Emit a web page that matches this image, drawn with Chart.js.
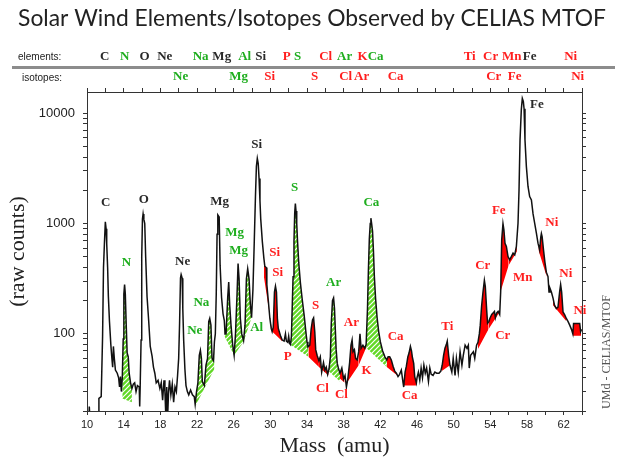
<!DOCTYPE html>
<html>
<head>
<meta charset="utf-8">
<script src="https://cdn.jsdelivr.net/npm/chart.js@4.4.1/dist/chart.umd.min.js"></script>
<style>
	html, body { margin: 0; padding: 0; background: #fff; }
	#wrap { width: 620px; height: 458px; }
</style>
</head>
<body>
<div id="wrap"><canvas id="mtof"></canvas></div>
<script>
// Spectrum: mass (amu) and raw counts
const massAmu = [
	10.0, 10.2, 10.25, 10.35, 11.25, 11.3, 11.55, 11.7, 11.8, 11.9,
	12.0, 12.08, 12.15, 12.25, 12.33, 12.45, 12.6, 12.7, 12.8, 12.88,
	12.98, 13.1, 13.3, 13.45, 13.55, 13.65, 13.75, 13.85, 13.95, 14.02,
	14.1, 14.18, 14.28, 14.38, 14.5, 14.6, 14.75, 14.9, 15.05, 15.2,
	15.35, 15.5, 15.7, 15.75, 15.8, 15.9, 15.97, 16.05, 16.12, 16.2,
	16.3, 16.4, 16.55, 16.72, 16.9, 17.1, 17.25, 17.4, 17.55, 17.75,
	17.95, 18.1, 18.25, 18.4, 18.5, 18.6, 18.7, 18.8, 18.9, 19.0,
	19.15, 19.3, 19.45, 19.6, 19.75, 19.88, 20.0, 20.1, 20.2, 20.27,
	20.38, 20.45, 20.55, 20.68, 20.8, 20.95, 21.1, 21.3, 21.5, 21.7,
	21.8, 21.95, 22.1, 22.25, 22.37, 22.48, 22.58, 22.8, 22.98, 23.15,
	23.28, 23.39, 23.52, 23.64, 23.8, 23.9, 24.0, 24.1, 24.19, 24.27,
	24.42, 24.52, 24.68, 24.84, 24.98, 25.06, 25.17, 25.35, 25.46, 25.57,
	25.71, 25.89, 26.05, 26.2, 26.37, 26.48, 26.59, 26.73, 26.88, 27.08,
	27.24, 27.39, 27.53, 27.68, 27.82, 27.95, 28.1, 28.25, 28.38, 28.48,
	28.58, 28.68, 28.77, 28.87, 28.95, 29.13, 29.3, 29.4, 29.55, 29.62,
	29.78, 29.95, 30.1, 30.2, 30.32, 30.45, 30.56, 30.67, 30.77, 30.87,
	30.97, 31.13, 31.3, 31.5, 31.65, 31.75, 31.9, 32.0, 32.1, 32.2,
	32.3, 32.4, 32.48, 32.58, 32.66, 32.73, 32.8, 32.88, 32.96, 33.1,
	33.28, 33.48, 33.7, 33.9, 34.0, 34.1, 34.3, 34.45, 34.6, 34.72,
	34.85, 34.95, 35.1, 35.3, 35.45, 35.6, 35.8, 35.95, 36.1, 36.25,
	36.4, 36.55, 36.65, 36.78, 36.9, 37.0, 37.08, 37.18, 37.3, 37.45,
	37.6, 37.8, 38.0, 38.15, 38.3, 38.45, 38.65, 38.8, 38.92, 39.02,
	39.17, 39.3, 39.47, 39.64, 39.78, 39.9, 40.1, 40.3, 40.45, 40.6,
	40.7, 40.8, 40.9, 40.97, 41.05, 41.15, 41.25, 41.35, 41.48, 41.65,
	41.82, 42.0, 42.25, 42.5, 42.7, 42.85, 43.02, 43.2, 43.39, 43.57,
	43.75, 43.93, 44.1, 44.29, 44.48, 44.55, 44.7, 44.84, 45.0, 45.13,
	45.28, 45.4, 45.49, 45.64, 45.75, 45.93, 46.0, 46.15, 46.3, 46.45,
	46.6, 46.75, 46.9, 47.05, 47.25, 47.4, 47.55, 47.75, 47.95, 48.15,
	48.4, 48.6, 48.75, 48.9, 49.05, 49.2, 49.3, 49.45, 49.6, 49.8,
	49.95, 50.15, 50.3, 50.5, 50.7, 50.9, 51.05, 51.25, 51.45, 51.6,
	51.7, 51.85, 52.15, 52.3, 52.5, 52.65, 52.8, 52.9, 53.05, 53.2,
	53.35, 53.45, 53.6, 53.7, 53.85, 53.95, 54.15, 54.3, 54.45, 54.55,
	54.7, 54.85, 55.02, 55.13, 55.24, 55.38, 55.48, 55.6, 55.75, 55.93,
	56.11, 56.29, 56.48, 56.66, 56.84, 57.02, 57.13, 57.24, 57.38, 57.49,
	57.6, 57.68, 57.78, 57.93, 58.11, 58.29, 58.48, 58.66, 58.84, 59.02,
	59.2, 59.38, 59.5, 59.57, 59.65, 59.8, 59.95, 60.11, 60.29, 60.4,
	60.5, 60.66, 60.84, 61.0, 61.2, 61.38, 61.56, 61.67, 61.78, 61.93,
	62.1, 62.29, 62.47, 62.66, 62.85, 63.0, 63.08, 63.75, 63.85, 63.95,
];
const rawCounts = [
	15, 15, 22, 15, 15, 26, 27, 95, 400, 660,
	1040, 900, 660, 400, 220, 130, 80, 62, 50, 77,
	60, 47, 44, 40, 33, 41, 30, 40, 90, 230,
	280, 230, 120, 67, 62, 44, 36, 32, 35, 36,
	30, 34, 33, 22, 33, 88, 500, 1100, 1225, 1100,
	1000, 500, 218, 135, 77, 63, 50, 44, 36, 38,
	32, 36, 25, 38, 30, 18, 33, 18, 30, 38,
	28, 35, 24, 33, 30, 42, 60, 125, 320, 345,
	320, 170, 86, 48, 34, 30, 28, 31, 28, 27,
	23, 30, 36, 64, 71, 60, 37, 34, 52, 60,
	129, 138, 120, 60, 57, 85, 100, 230, 800, 1200,
	1150, 420, 214, 152, 132, 100, 100, 214, 295, 182,
	120, 80, 64, 100, 230, 434, 316, 138, 100, 87,
	120, 316, 390, 316, 185, 140, 250, 700, 1800, 3300,
	3900, 3500, 2560, 1600, 1110, 683, 482, 410, 400, 280,
	200, 138, 112, 105, 115, 240, 271, 240, 138, 112,
	105, 95, 88, 86, 100, 86, 84, 95, 82, 80,
	95, 190, 330, 700, 1250, 1520, 1300, 1000, 710, 440,
	290, 205, 145, 100, 85, 76, 79, 110, 134, 140,
	104, 72, 64, 57, 62, 45, 55, 47, 50, 43,
	48, 62, 125, 200, 212, 170, 115, 72, 54, 48,
	44, 49, 39, 42, 33, 39, 55, 79, 88, 69,
	72, 60, 58, 69, 100, 74, 79, 74, 80, 170,
	380, 730, 1000, 1120, 1000, 850, 560, 330, 210, 140,
	105, 85, 70, 62, 58, 62, 62, 58, 51, 46,
	44, 41, 43, 47, 36, 33, 45, 51, 62, 67,
	77, 70, 62, 54, 41, 36, 40, 45, 38, 49,
	40, 52, 44, 49, 37, 49, 43, 42, 45, 44,
	44, 46, 52, 64, 74, 80, 86, 64, 52, 45,
	60, 42, 60, 45, 69, 52, 64, 79, 74, 79,
	49, 64, 69, 60, 79, 84, 100, 120, 180, 240,
	306, 270, 165, 125, 130, 138, 150, 155, 160, 140,
	155, 160, 150, 243, 712, 1000, 880, 664, 620, 502,
	470, 502, 540, 520, 620, 1007, 2020, 5740, 10800, 13650,
	12800, 11000, 5740, 3300, 2170, 1760, 1640, 1225, 1007, 826,
	664, 577, 750, 811, 760, 577, 450, 363, 331, 240,
	260, 240, 211, 182, 170, 175, 240, 280, 240, 158,
	150, 138, 130, 120, 110, 100, 124, 124, 105, 110,
];

// Isotope areas: [mass from, background from, mass to, background to]
const greenRegions = [
	[13.85, 26, 14.9, 24],
	[21.8, 22, 22.8, 32],
	[22.8, 32, 23.9, 48],
	[25.0, 95, 26.05, 64],
	[26.05, 64, 27.08, 85],
	[27.08, 85, 27.95, 140],
	[32.15, 80, 34.15, 62],
	[36.35, 46, 37.6, 37],
	[40.45, 75, 42.7, 50],
];
const redRegions = [
	[29.3, 330, 30.2, 105],
	[30.2, 105, 31.3, 86],
	[34.15, 62, 35.3, 50],
	[35.3, 50, 36.35, 42],
	[37.5, 40, 38.1, 36],
	[38.45, 37, 39.64, 52],
	[39.64, 52, 40.45, 75],
	[42.7, 50, 44.0, 41],
	[44.5, 34, 45.95, 34],
	[48.7, 46, 49.6, 52],
	[52.65, 73, 53.8, 110],
	[53.8, 110, 55.05, 160],
	[55.13, 243, 56.0, 420],
	[56.0, 420, 56.9, 560],
	[59.25, 577, 60.15, 330],
	[60.84, 182, 62.3, 130],
	[63.0, 96, 63.9, 96],
];

// Peak labels (mass, count) and tone: k = element, g = abundant isotope, r = rare
const peakText = ["C", "O", "N", "Ne", "Mg", "Mg", "Mg", "Na", "Ne", "Al", "Si", "Si", "Si", "S", "S", "P", "Ar", "Ar", "Cl", "Cl", "K", "Ca", "Ca", "Ca", "Ti", "Cr", "Cr", "Fe", "Mn", "Fe", "Ni", "Ni", "Ni"];
const peakAt = [12.04, 16.19, 14.3, 20.44, 24.48, 26.11, 26.55, 22.48, 21.75, 28.51, 28.51, 30.48, 30.8, 32.66, 34.95, 31.89, 36.91, 38.84, 35.68, 37.75, 40.51, 41.02, 43.67, 45.2, 49.3, 53.17, 55.35, 54.92, 57.54, 59.07, 60.71, 62.24, 63.77];
const peakLevel = [1540, 1640, 440, 450, 1575, 824, 565, 191, 107, 113, 5160, 542, 357, 2110, 180, 62, 290, 126, 32, 28, 46, 1540, 94, 27.4, 116, 414, 96, 1304, 322, 11900, 1014, 350, 162];
const peakTone = ["k", "k", "g", "k", "k", "g", "g", "g", "g", "g", "k", "r", "r", "g", "r", "r", "g", "r", "r", "r", "r", "g", "r", "r", "r", "r", "r", "r", "r", "k", "r", "r", "r"];

const elementNames = ["C", "N", "O", "Ne", "Na", "Mg", "Al", "Si", "P", "S", "Cl", "Ar", "K", "Ca", "Ti", "Cr", "Mn", "Fe", "Ni"];
const elementMass = [11.93, 14.11, 16.29, 18.48, 22.4, 24.7, 27.2, 28.95, 31.79, 32.98, 36.04, 38.11, 40.07, 41.49, 51.75, 54.04, 56.33, 58.29, 62.77];
const elementTone = ["k", "g", "k", "k", "g", "k", "g", "k", "r", "g", "r", "g", "r", "g", "r", "r", "r", "k", "r"];
const isotopeNames = ["Ne", "Mg", "Si", "S", "Cl", "Ar", "Ca", "Cr", "Fe", "Ni"];
const isotopeMass = [20.22, 26.55, 29.93, 34.84, 38.22, 39.96, 43.67, 54.37, 56.66, 63.53];
const isotopeTone = ["g", "g", "r", "r", "r", "r", "r", "r", "r", "r"];

const yTickValues = [20, 30, 40, 50, 60, 70, 80, 90, 100, 200, 300, 400, 500, 600, 700, 800, 900, 1000, 2000, 3000, 4000, 5000, 6000, 7000, 8000, 9000, 10000];
const yLabelled = [100, 1000, 10000];

const chartTitle = "Solar Wind Elements/Isotopes Observed by CELIAS MTOF";
const toneColor = { k: "#2a2a2a", g: "#1fae1f", r: "#ff1f1f" };

// Curve value at any mass (straight in log space, like the drawn line)
function curveAt(m) {
	for (let i = 1; i < massAmu.length; i++) {
		if (massAmu[i] >= m) {
			const t = (m - massAmu[i - 1]) / (massAmu[i] - massAmu[i - 1]);
			const a = Math.log10(rawCounts[i - 1]);
			const b = Math.log10(rawCounts[i]);
			return Math.pow(10, a + t * (b - a));
		}
	}
	return rawCounts[rawCounts.length - 1];
}

function hatchPattern() {
	const c = document.createElement("canvas");
	c.width = 5;
	c.height = 5;
	const g = c.getContext("2d");
	g.fillStyle = "#62d826";
	g.fillRect(0, 0, 5, 5);
	g.strokeStyle = "#ffffff";
	g.lineWidth = 1.2;
	g.beginPath();
	g.moveTo(0, 5); g.lineTo(5, 0);
	g.moveTo(-1, 1); g.lineTo(1, -1);
	g.moveTo(4, 6); g.lineTo(6, 4);
	g.stroke();
	return g.createPattern(c, "repeat");
}

// Each area = curve piece filled down to a straight background line
function regionDatasets(regions, fillStyle) {
	const out = [];
	regions.forEach(([m0, c0, m1, c1]) => {
		const pts = [{ x: m0, y: curveAt(m0) }];
		massAmu.forEach((m, i) => {
			if (m > m0 && m < m1) pts.push({ x: m, y: rawCounts[i] });
		});
		pts.push({ x: m1, y: curveAt(m1) });
		out.push({
			data: pts, borderColor: "transparent", borderWidth: 0, pointRadius: 0,
			backgroundColor: fillStyle, fill: "+1", order: 1,
		});
		out.push({
			data: [{ x: m0, y: c0 }, { x: m1, y: c1 }],
			borderColor: "transparent", borderWidth: 0, pointRadius: 0, fill: false, order: 1,
		});
	});
	return out;
}

const textLayer = {
	id: "textLayer",
	afterDraw(chart) {
		const { ctx } = chart;
		const xs = chart.scales.x;
		const ys = chart.scales.y;
		ctx.save();

		// title, stretched to the reference width
		ctx.fillStyle = "#222";
		ctx.font = '21px Lato';
		const w = ctx.measureText(chartTitle).width;
		ctx.font = `${(21 * 588) / w}px Lato`;
		ctx.textAlign = "center";
		ctx.textBaseline = "alphabetic";
		ctx.fillText(chartTitle, 312, 26);

		// header rows
		ctx.font = '10px "Liberation Sans"';
		ctx.textAlign = "left";
		ctx.textBaseline = "middle";
		ctx.fillText("elements:", 18, 57);
		ctx.fillText("isotopes:", 22, 78);

		ctx.strokeStyle = "#8c8c8c";
		ctx.lineWidth = 3;
		ctx.beginPath();
		ctx.moveTo(12, 67.5);
		ctx.lineTo(615, 67.5);
		ctx.stroke();

		ctx.font = 'bold 13px "Liberation Serif"';
		ctx.textAlign = "center";
		elementNames.forEach((t, i) => {
			ctx.fillStyle = toneColor[elementTone[i]];
			ctx.fillText(t, xs.getPixelForValue(elementMass[i]), 57);
		});
		isotopeNames.forEach((t, i) => {
			ctx.fillStyle = toneColor[isotopeTone[i]];
			ctx.fillText(t, xs.getPixelForValue(isotopeMass[i]), 77);
		});

		// labels on the peaks
		peakText.forEach((t, i) => {
			ctx.fillStyle = toneColor[peakTone[i]];
			ctx.fillText(t, xs.getPixelForValue(peakAt[i]), ys.getPixelForValue(peakLevel[i]));
		});

		// axis titles
		ctx.fillStyle = "#222";
		ctx.font = '22px "Liberation Serif"';
		ctx.fillText("Mass  (amu)", (xs.left + xs.right) / 2, 446);

		ctx.save();
		ctx.translate(18, (ys.top + ys.bottom) / 2);
		ctx.rotate(-Math.PI / 2);
		ctx.fillText("(raw counts)", 0, 0);
		ctx.restore();

		ctx.save();
		ctx.fillStyle = "#555";
		ctx.font = '12px "Liberation Serif"';
		ctx.translate(607, 352);
		ctx.rotate(-Math.PI / 2);
		ctx.fillText("UMd - CELIAS/MTOF", 0, 0);
		ctx.restore();

		ctx.restore();
	},
};

const axisLine = "#333";
const edgeAxis = (extra) => ({
	grid: { drawOnChartArea: false, tickLength: 4, color: axisLine },
	border: { color: axisLine, width: 1 },
	...extra,
});

document.addEventListener("DOMContentLoaded", () => {
	const spectrum = {
		data: massAmu.map((m, i) => ({ x: m, y: rawCounts[i] })),
		borderColor: "#111",
		borderWidth: 1.5,
		pointRadius: 0,
		fill: false,
		order: 0,
	};

	new Chart(document.getElementById("mtof"), {
		type: "line",
		data: {
			datasets: [
				spectrum,
				...regionDatasets(greenRegions, hatchPattern()),
				...regionDatasets(redRegions, "#ff0000"),
			],
		},
		options: {
			responsive: true,
			maintainAspectRatio: false,
			animation: false,
			layout: { padding: { top: 87 } },
			plugins: { legend: { display: false }, tooltip: { enabled: false } },
			scales: {
				x: edgeAxis({
					type: "linear", position: "bottom", min: 10, max: 64,
					ticks: {
						stepSize: 2, autoSkip: false, maxRotation: 0, padding: 3, color: "#222",
						font: { family: "Liberation Sans", size: 11 },
						callback: (v) => ((v - 10) % 4 === 0 ? String(v) : ""),
					},
					afterFit: (s) => { s.height = 47; },
				}),
				xTop: edgeAxis({
					type: "linear", position: "top", min: 10, max: 64,
					ticks: { stepSize: 2, autoSkip: false, maxRotation: 0, callback: () => "" },
					afterFit: (s) => { s.height = 5; },
				}),
				y: edgeAxis({
					type: "logarithmic", position: "left", min: 20, max: 15600,
					afterBuildTicks: (s) => { s.ticks = yTickValues.map((v) => ({ value: v })); },
					ticks: {
						autoSkip: false, padding: 8, color: "#222",
						font: { family: "Liberation Sans", size: 13 },
						callback: (v) => (yLabelled.includes(v) ? String(v) : ""),
					},
					afterFit: (s) => { s.width = 87; },
				}),
				yRight: edgeAxis({
					type: "logarithmic", position: "right", min: 20, max: 15600,
					afterBuildTicks: (s) => { s.ticks = yTickValues.map((v) => ({ value: v })); },
					ticks: { autoSkip: false, callback: () => "" },
					afterFit: (s) => { s.width = 38; },
				}),
			},
		},
		plugins: [textLayer],
	});
});
</script>
</body>
</html>
